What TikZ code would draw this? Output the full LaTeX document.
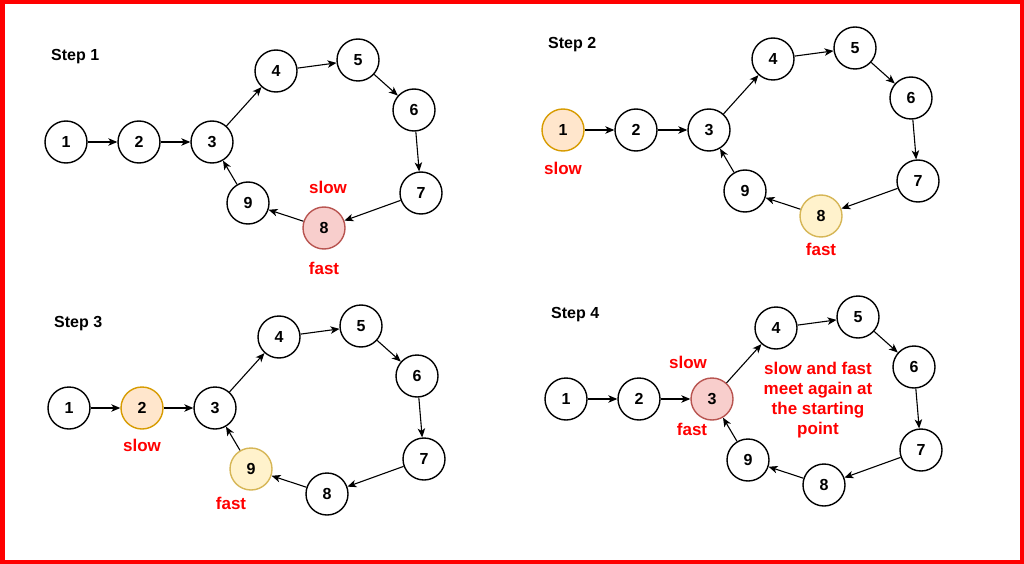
\documentclass[tikz,border=0pt]{standalone}
\usepackage{fontspec}
\setmainfont{Liberation Sans}
\usetikzlibrary{arrows.meta,positioning,calc}
\definecolor{ink}{HTML}{000000}
\definecolor{alertred}{HTML}{FF0000}
\definecolor{slowfill}{HTML}{FFE6CC}
\definecolor{slowline}{HTML}{D79B00}
\definecolor{fastfill}{HTML}{FFF2CC}
\definecolor{fastline}{HTML}{D6B656}
\definecolor{meetfill}{HTML}{F8CECC}
\definecolor{meetline}{HTML}{B85450}

% one panel: prefix, origin of node 1, slow node, fast node, step number
\newcommand{\ring}[5]{%
  \begin{scope}[shift={#2}]
    \node[steptitle] (#1t) at (-15,-81) {Step #5};
    \foreach \n/\x/\y in {1/0/0,2/73/0,3/146/0,4/210/-71,5/292/-82,6/348/-32,7/355/51,8/258/86,9/182/61}{
      \def\look{blankdot}%
      \ifnum\n=#3 \def\look{slowdot}\fi
      \ifnum\n=#4 \def\look{fastdot}\fi
      \ifnum#3=#4 \ifnum\n=#3 \def\look{meetdot}\fi\fi
      \node[vert,\look] (#1\n) at (\x,\y) {\n};
    }
    \foreach \a/\b in {1/2,2/3,3/4,4/5,5/6,6/7,7/8,8/9,9/3}
      \draw[arr] (#1\a) -- (#1\b);
  \end{scope}}

\begin{document}
\begin{tikzpicture}[x=1pt,y=-1pt,
    vert/.style={circle,draw=ink,line width=1.4pt,minimum size=42pt,inner sep=0pt,text=ink,
      font=\fontsize{16}{19}\selectfont\bfseries},
    blankdot/.style={fill=white},
    slowdot/.style={fill=slowfill,draw=slowline},
    fastdot/.style={fill=fastfill,draw=fastline},
    meetdot/.style={fill=meetfill,draw=meetline},
    arr/.style={-{Stealth[length=9pt,width=7.5pt,inset=2.5pt]},line width=1.1pt,draw=ink},
    steptitle/.style={anchor=base west,inner sep=0pt,text=ink,font=\fontsize{16}{19}\selectfont\bfseries},
    tag/.style={text=alertred,inner sep=0pt,font=\fontsize{17}{20}\selectfont\bfseries}]
  \useasboundingbox (0,0) rectangle (1024,564);
  \draw[alertred,line width=4.5pt] (2.25,2.25) rectangle (1021.75,561.75);

  % step 1
  \ring{a}{(66,142)}{8}{8}{1}
  \node[tag,above=12pt of a8,xshift=4pt] (a-slow) {slow};
  \node[tag,below=12pt of a8] (a-fast) {fast};

  % step 2
  \ring{b}{(563,130)}{1}{8}{2}
  \node[tag,below=10pt of b1] (b-slow) {slow};
  \node[tag,below=5pt of b8] (b-fast) {fast};

  % step 3
  \ring{c}{(69,408)}{2}{9}{3}
  \node[tag,below=9pt of c2] (c-slow) {slow};
  \node[tag,below=6pt of c9,xshift=-20pt] (c-fast) {fast};

  % step 4
  \ring{d}{(566,399)}{3}{3}{4}
  \node[tag,above=8pt of d3,xshift=-24pt] (d-slow) {slow};
  \node[tag,below=2pt of d3,xshift=-20pt] (d-fast) {fast};
  \node[tag,align=center] (d-note) at ($(d1)+(252,1)$)
    {slow and fast\\meet again at\\the starting\\point};
\end{tikzpicture}
\end{document}
